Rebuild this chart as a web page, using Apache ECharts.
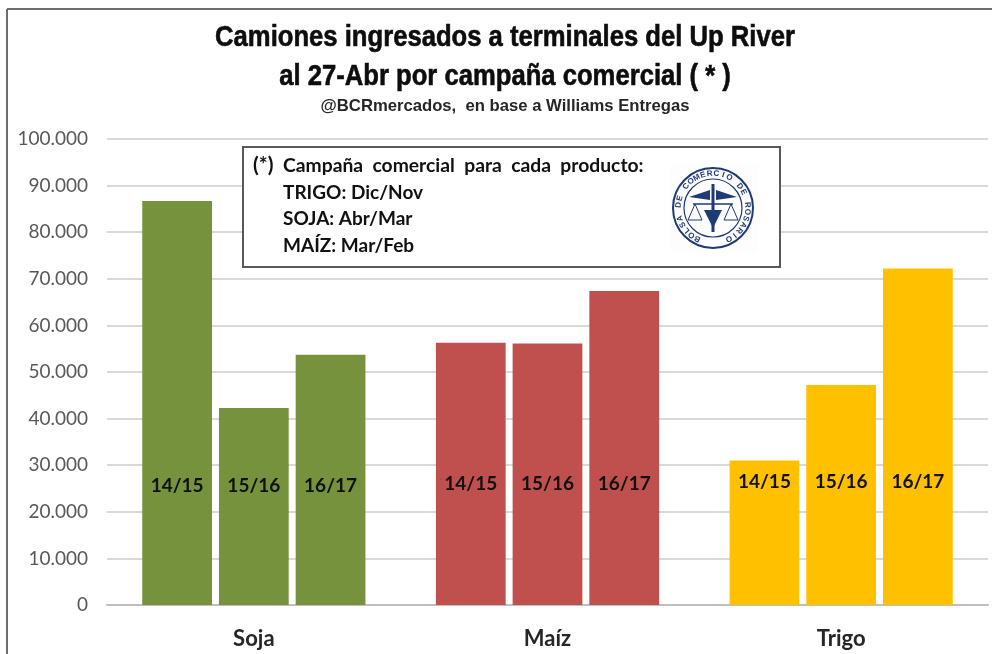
<!DOCTYPE html>
<html>
<head>
<meta charset="utf-8">
<script src="https://cdn.jsdelivr.net/npm/echarts@6/dist/echarts.min.js"></script>
<style>
  html, body { margin: 0; padding: 0; background: #fff; }
  #chart { width: 992px; height: 654px; }
</style>
</head>
<body>
<div id="chart"></div>
<script>
var categories = ["Soja", "Maíz", "Trigo"];
var campaigns = ["14/15", "15/16", "16/17"];
var values1415 = [86700, 56300, 31000];
var values1516 = [42300, 56100, 47200];
var values1617 = [53700, 67400, 72200];
var colors = ["#76923c", "#c0504d", "#ffc000"];
var labelDistance = [110, 112, 114];
var titleLines = [
  "Camiones ingresados a terminales del Up River",
  "al 27-Abr por campaña comercial ( * )"
];
var subtitle = "@BCRmercados,  en base a Williams Entregas";
var noteMark = "(*)";
var noteLines = [
  "Campaña  comercial  para  cada  producto:",
  "TRIGO: Dic/Nov",
  "SOJA: Abr/Mar",
  "MAÍZ: Mar/Feb"
];
var logoText = "BOLSA DE COMERCIO DE ROSARIO";

var myChart = echarts.init(document.getElementById("chart"));

function makeSeries(name, values) {
  return {
    name: name,
    type: "bar",
    barGap: "10%",
    barCategoryGap: "24%",
    z: 2,
    data: values.map(function (v, i) {
      return {
        value: v,
        itemStyle: { color: colors[i] },
        label: { distance: labelDistance[i] }
      };
    }),
    label: {
      show: true,
      position: "insideBottom",
      formatter: name,
      color: "#111",
      fontFamily: "Lato",
      fontWeight: "bold",
      fontSize: 19
    }
  };
}

// condensed title look: no narrow font here, so squeeze Liberation Sans
function squeezed(text, y, size, scaleX, fill, heavy) {
  return {
    type: "text", z: 10, x: 505, y: y, scaleX: scaleX,
    style: {
      text: text, fill: fill, stroke: fill, lineWidth: heavy,
      font: "bold " + size + "px 'Liberation Sans'", align: "center", verticalAlign: "middle"
    }
  };
}

function note(text, x, y, scaleX) {
  return {
    type: "text", z: 10, x: x, y: y, scaleX: scaleX || 1,
    style: { text: text, fill: "#111", font: "bold 19px Lato", verticalAlign: "middle" }
  };
}

// logo: ring, lettering round it, then a rough caduceus and scales
var logoBlue = "#1f3a75";
var logoCx = 713, logoCy = 208;
var logo = [
  { type: "rect", z: 10, shape: { x: 669, y: 165, width: 89, height: 88 }, style: { fill: "#fdfdfd" } },
  { type: "circle", z: 11, shape: { cx: logoCx, cy: logoCy, r: 40 }, style: { fill: "none", stroke: logoBlue, lineWidth: 2 } },
  { type: "circle", z: 11, shape: { cx: logoCx, cy: logoCy, r: 29 }, style: { fill: "none", stroke: logoBlue, lineWidth: 1.2 } },
  { type: "line", z: 11, shape: { x1: logoCx, y1: logoCy - 24, x2: logoCx, y2: logoCy + 24 }, style: { stroke: logoBlue, lineWidth: 3 } },
  { type: "polygon", z: 11, shape: { points: [[logoCx - 24, logoCy - 11], [logoCx - 3, logoCy - 18], [logoCx - 3, logoCy - 8]] }, style: { fill: logoBlue } },
  { type: "polygon", z: 11, shape: { points: [[logoCx + 24, logoCy - 11], [logoCx + 3, logoCy - 18], [logoCx + 3, logoCy - 8]] }, style: { fill: logoBlue } },
  { type: "line", z: 11, shape: { x1: logoCx - 20, y1: logoCy - 4, x2: logoCx + 20, y2: logoCy - 4 }, style: { stroke: logoBlue, lineWidth: 1.5 } },
  { type: "polygon", z: 11, shape: { points: [[logoCx - 18, logoCy - 4], [logoCx - 25, logoCy + 12], [logoCx - 11, logoCy + 12]] }, style: { fill: "none", stroke: logoBlue, lineWidth: 1 } },
  { type: "polygon", z: 11, shape: { points: [[logoCx + 18, logoCy - 4], [logoCx + 25, logoCy + 12], [logoCx + 11, logoCy + 12]] }, style: { fill: "none", stroke: logoBlue, lineWidth: 1 } },
  { type: "polygon", z: 11, shape: { points: [[logoCx - 9, logoCy + 2], [logoCx + 9, logoCy + 2], [logoCx, logoCy + 20]] }, style: { fill: logoBlue } }
];
logoText.split("").forEach(function (ch, i) {
  var a = -Math.PI * 0.85 + i * (Math.PI * 1.7 / (logoText.length - 1));
  logo.push({
    type: "text",
    z: 11,
    x: logoCx + Math.sin(a) * 34.5,
    y: logoCy - Math.cos(a) * 34.5,
    rotation: -a,
    style: { text: ch, fill: logoBlue, font: "bold 8px 'Liberation Sans'", align: "center", verticalAlign: "middle" }
  });
});

var option = {
  animation: false,
  backgroundColor: "#fff",
  grid: { left: 107, right: 4, top: 139, bottom: 49 },
  xAxis: {
    type: "category",
    data: categories,
    axisTick: { show: false },
    axisLine: { lineStyle: { color: "#bfbfbf", width: 2 } },
    axisLabel: { margin: 23, color: "#262626", fontFamily: "Lato", fontWeight: "bold", fontSize: 22 }
  },
  yAxis: {
    type: "value",
    min: 0,
    max: 100000,
    interval: 10000,
    axisLine: { show: false },
    axisTick: { show: false },
    splitLine: { lineStyle: { color: "#d9d9d9", width: 2 } },
    axisLabel: {
      margin: 19,
      color: "#595959",
      fontFamily: "Lato",
      fontSize: 19,
      formatter: function (v) { return String(v).replace(/\B(?=(\d{3})+$)/g, "."); }
    }
  },
  series: [
    makeSeries(campaigns[0], values1415),
    makeSeries(campaigns[1], values1516),
    makeSeries(campaigns[2], values1617)
  ],
  graphic: [
    squeezed(titleLines[0], 38, 29, 0.884, "#0d0d0d", 0.6),
    squeezed(titleLines[1], 77, 29, 0.884, "#0d0d0d", 0.6),
    squeezed(subtitle, 106, 17, 0.98, "#262626", 0),
    { type: "line", z: 9, shape: { x1: 7, y1: 9, x2: 992, y2: 9 }, style: { stroke: "#6e6e6e", lineWidth: 2 } },
    { type: "line", z: 9, shape: { x1: 7, y1: 9, x2: 7, y2: 654 }, style: { stroke: "#6e6e6e", lineWidth: 2 } },
    { type: "rect", z: 9, shape: { x: 243, y: 147, width: 537, height: 120 }, style: { fill: "#fff", stroke: "#595959", lineWidth: 2 } },
    { type: "text", z: 10, x: 253, y: 165, style: { text: noteMark, fill: "#111", font: "bold 21px Lato", verticalAlign: "middle" } },
    note(noteLines[0], 283, 166, 1.015),
    note(noteLines[1], 283, 193),
    note(noteLines[2], 283, 219),
    note(noteLines[3], 283, 246)
  ].concat(logo)
};

option && myChart.setOption(option);
</script>
</body>
</html>
